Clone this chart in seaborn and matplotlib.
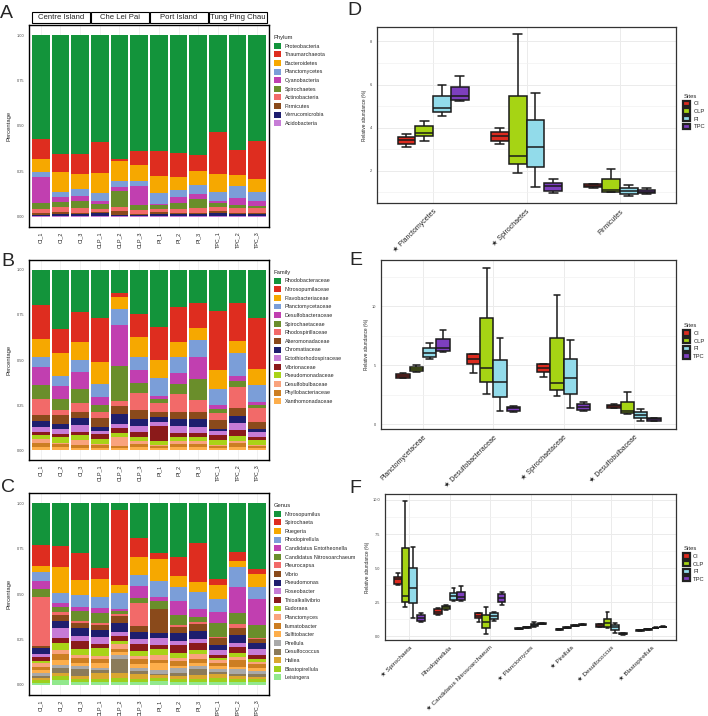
import numpy as np
import pandas as pd
import matplotlib
matplotlib.use('Agg')
import matplotlib.pyplot as plt
import seaborn as sns
from matplotlib.patches import Rectangle, Patch
from matplotlib.ticker import MultipleLocator
from matplotlib.transforms import blended_transform_factory

# ---------------- data ----------------
samples = ['CI_1', 'CI_2', 'CI_3', 'CLP_1', 'CLP_2', 'CLP_3',
           'PI_1', 'PI_2', 'PI_3', 'TPC_1', 'TPC_2', 'TPC_3']
site_names = ['Centre Island', 'Che Lei Pai', 'Port Island', 'Tung Ping Chau']

# panel A: phylum (fraction per sample)
proteobacteria = [0.570, 0.654, 0.654, 0.589, 0.682, 0.636, 0.640, 0.649, 0.660, 0.534, 0.633, 0.585]
thaumarchaeota = [0.112, 0.096, 0.108, 0.168, 0.011, 0.077, 0.133, 0.130, 0.090, 0.232, 0.137, 0.205]
bacteroidetes = [0.071, 0.109, 0.084, 0.113, 0.108, 0.088, 0.097, 0.071, 0.076, 0.099, 0.058, 0.075]
planctomycetes = [0.029, 0.031, 0.037, 0.044, 0.036, 0.031, 0.057, 0.042, 0.048, 0.049, 0.068, 0.049]
cyanobacteria = [0.141, 0.024, 0.027, 0.015, 0.022, 0.104, 0.009, 0.033, 0.025, 0.011, 0.036, 0.024]
spirochaetes = [0.033, 0.031, 0.041, 0.025, 0.088, 0.027, 0.018, 0.031, 0.053, 0.022, 0.015, 0.011]
actinobacteria = [0.024, 0.028, 0.027, 0.020, 0.018, 0.018, 0.020, 0.022, 0.026, 0.018, 0.031, 0.029]
firmicutes = [0.007, 0.008, 0.006, 0.005, 0.022, 0.007, 0.007, 0.005, 0.005, 0.013, 0.005, 0.005]
verrucomicrobia = [0.009, 0.014, 0.012, 0.016, 0.009, 0.007, 0.014, 0.012, 0.012, 0.018, 0.012, 0.012]
acidobacteria = [0.004, 0.004, 0.004, 0.005, 0.004, 0.005, 0.005, 0.005, 0.005, 0.004, 0.004, 0.005]

# panel B: family
rhodobacteraceae = [0.193, 0.327, 0.233, 0.266, 0.127, 0.246, 0.319, 0.206, 0.182, 0.229, 0.183, 0.266]
nitrosopumilaceae = [0.192, 0.135, 0.169, 0.246, 0.023, 0.126, 0.180, 0.196, 0.139, 0.329, 0.211, 0.284]
flavobacteriaceae = [0.096, 0.125, 0.097, 0.119, 0.068, 0.112, 0.101, 0.082, 0.068, 0.103, 0.065, 0.090]
planctomycetaceae = [0.060, 0.059, 0.068, 0.075, 0.085, 0.070, 0.101, 0.088, 0.097, 0.091, 0.132, 0.092]
desulfobacteraceae = [0.099, 0.070, 0.094, 0.044, 0.233, 0.074, 0.018, 0.059, 0.120, 0.022, 0.027, 0.015]
spirochaetaceae = [0.079, 0.064, 0.080, 0.037, 0.192, 0.055, 0.019, 0.057, 0.117, 0.022, 0.033, 0.022]
rhodospirillaceae = [0.088, 0.026, 0.046, 0.035, 0.028, 0.097, 0.049, 0.099, 0.064, 0.037, 0.118, 0.075]
alteromonadaceae = [0.032, 0.047, 0.037, 0.050, 0.046, 0.046, 0.030, 0.039, 0.039, 0.048, 0.042, 0.037]
chromatiaceae = [0.031, 0.028, 0.038, 0.022, 0.051, 0.040, 0.025, 0.040, 0.044, 0.013, 0.037, 0.016]
ectothiorhodospiraceae = [0.027, 0.027, 0.035, 0.018, 0.022, 0.033, 0.024, 0.040, 0.033, 0.022, 0.040, 0.028]
vibrionaceae = [0.019, 0.022, 0.020, 0.027, 0.031, 0.026, 0.086, 0.021, 0.022, 0.029, 0.033, 0.018]
pseudomonadaceae = [0.023, 0.028, 0.026, 0.028, 0.024, 0.027, 0.020, 0.025, 0.027, 0.026, 0.028, 0.029]
desulfobulbaceae = [0.024, 0.009, 0.028, 0.005, 0.050, 0.015, 0.004, 0.015, 0.015, 0.005, 0.012, 0.004]
phyllobacteriaceae = [0.022, 0.018, 0.018, 0.017, 0.009, 0.018, 0.013, 0.018, 0.018, 0.013, 0.024, 0.013]
xanthomonadaceae = [0.015, 0.015, 0.011, 0.011, 0.011, 0.015, 0.011, 0.015, 0.015, 0.011, 0.015, 0.011]

# panel C: genus
nitrosopumilus = [0.229, 0.234, 0.274, 0.356, 0.037, 0.192, 0.274, 0.296, 0.219, 0.420, 0.269, 0.360]
spirochaeta = [0.115, 0.117, 0.150, 0.061, 0.416, 0.104, 0.033, 0.106, 0.214, 0.033, 0.051, 0.028]
ruegeria = [0.036, 0.146, 0.084, 0.099, 0.044, 0.097, 0.119, 0.059, 0.055, 0.077, 0.033, 0.073]
rhodopirellula = [0.046, 0.055, 0.064, 0.060, 0.084, 0.064, 0.090, 0.078, 0.092, 0.068, 0.110, 0.066]
entotheonella = [0.044, 0.020, 0.022, 0.031, 0.013, 0.064, 0.023, 0.077, 0.047, 0.060, 0.140, 0.144]
nitrosoarchaeum = [0.047, 0.028, 0.055, 0.055, 0.015, 0.031, 0.041, 0.055, 0.027, 0.079, 0.064, 0.069]
pleurocapsa = [0.269, 0.018, 0.009, 0.009, 0.013, 0.124, 0.000, 0.011, 0.010, 0.003, 0.019, 0.006]
vibrio = [0.013, 0.031, 0.028, 0.029, 0.040, 0.031, 0.133, 0.031, 0.040, 0.041, 0.042, 0.025]
pseudomonas = [0.029, 0.040, 0.045, 0.037, 0.045, 0.039, 0.031, 0.046, 0.042, 0.029, 0.040, 0.033]
roseobacter = [0.018, 0.051, 0.028, 0.040, 0.024, 0.031, 0.038, 0.023, 0.025, 0.027, 0.024, 0.031]
thioalkalivibrio = [0.024, 0.031, 0.045, 0.018, 0.028, 0.037, 0.022, 0.041, 0.037, 0.017, 0.034, 0.024]
eudoraea = [0.011, 0.039, 0.033, 0.046, 0.018, 0.027, 0.031, 0.027, 0.020, 0.011, 0.019, 0.013]
planctomyces = [0.018, 0.022, 0.017, 0.018, 0.027, 0.018, 0.030, 0.018, 0.028, 0.016, 0.020, 0.015]
ilumatobacter = [0.019, 0.031, 0.024, 0.022, 0.015, 0.024, 0.016, 0.028, 0.025, 0.015, 0.034, 0.022]
sulfitobacter = [0.014, 0.029, 0.018, 0.024, 0.018, 0.022, 0.039, 0.013, 0.015, 0.018, 0.015, 0.014]
pirellula = [0.019, 0.017, 0.018, 0.015, 0.022, 0.018, 0.018, 0.023, 0.018, 0.013, 0.024, 0.018]
desulfococcus = [0.012, 0.023, 0.037, 0.016, 0.077, 0.018, 0.009, 0.019, 0.033, 0.014, 0.013, 0.013]
haliea = [0.011, 0.019, 0.018, 0.033, 0.024, 0.024, 0.013, 0.014, 0.018, 0.019, 0.018, 0.015]
blastopirellula = [0.013, 0.022, 0.013, 0.015, 0.024, 0.019, 0.018, 0.019, 0.019, 0.022, 0.015, 0.015]
leisingera = [0.013, 0.027, 0.018, 0.016, 0.016, 0.016, 0.022, 0.016, 0.016, 0.018, 0.016, 0.016]

phylum_names = ['Proteobacteria', 'Thaumarchaeota', 'Bacteroidetes', 'Planctomycetes', 'Cyanobacteria',
                'Spirochaetes', 'Actinobacteria', 'Firmicutes', 'Verrucomicrobia', 'Acidobacteria']
family_names = ['Rhodobacteraceae', 'Nitrosopumilaceae', 'Flavobacteriaceae', 'Planctomycetaceae',
                'Desulfobacteraceae', 'Spirochaetaceae', 'Rhodospirillaceae', 'Alteromonadaceae',
                'Chromatiaceae', 'Ectothiorhodospiraceae', 'Vibrionaceae', 'Pseudomonadaceae',
                'Desulfobulbaceae', 'Phyllobacteriaceae', 'Xanthomonadaceae']
genus_names = ['Nitrosopumilus', 'Spirochaeta', 'Ruegeria', 'Rhodopirellula', 'Candidatus Entotheonella',
               'Candidatus Nitrosoarchaeum', 'Pleurocapsa', 'Vibrio', 'Pseudomonas', 'Roseobacter',
               'Thioalkalivibrio', 'Eudoraea', 'Planctomyces', 'Ilumatobacter', 'Sulfitobacter',
               'Pirellula', 'Desulfococcus', 'Haliea', 'Blastopirellula', 'Leisingera']

# boxplots: five readings per site and taxon (min, q1, median, q3, max)
site_codes = ['CI', 'CLP', 'PI', 'TPC']
d_taxa = ['\u2605 Planctomycetes', '\u2605 Spirochaetes', 'Firmicutes']
d_ci = [[3.08, 3.23, 3.42, 3.57, 3.69], [3.26, 3.38, 3.62, 3.80, 4.00], [1.20, 1.24, 1.30, 1.36, 1.38]]
d_clp = [[3.38, 3.60, 3.77, 4.08, 4.30], [1.90, 2.29, 2.69, 5.46, 8.34], [1.00, 1.03, 1.10, 1.62, 2.10]]
d_pi = [[4.52, 4.72, 4.92, 5.46, 5.98], [1.23, 2.15, 3.10, 4.37, 5.60], [0.83, 0.90, 1.08, 1.18, 1.34]]
d_tpc = [[5.25, 5.29, 5.45, 5.90, 6.40], [0.98, 1.08, 1.30, 1.42, 1.60], [0.92, 0.95, 1.03, 1.10, 1.18]]

e_taxa = ['Planctomycetaceae', '\u2605 Desulfobacteraceae', '\u2605 Spirochaetaceae', '\u2605 Desulfobulbaceae']
e_ci = [[3.90, 3.94, 4.10, 4.25, 4.37], [4.35, 5.07, 5.50, 5.92, 5.95],
        [4.03, 4.45, 4.79, 5.07, 5.10], [1.35, 1.36, 1.55, 1.63, 1.72]]
e_clp = [[4.42, 4.48, 4.68, 4.87, 5.00], [2.60, 3.60, 4.73, 9.00, 13.20],
         [2.39, 2.90, 3.50, 7.27, 10.93], [0.85, 0.93, 1.13, 1.92, 2.76]]
e_pi = [[5.50, 5.66, 6.00, 6.48, 6.90], [1.13, 2.34, 3.55, 5.44, 7.32],
        [1.35, 2.56, 3.89, 5.49, 7.13], [0.28, 0.51, 0.79, 1.07, 1.27]]
e_tpc = [[6.08, 6.20, 6.48, 7.18, 7.97], [1.07, 1.15, 1.35, 1.50, 1.55],
         [1.15, 1.21, 1.49, 1.72, 1.92], [0.28, 0.31, 0.42, 0.50, 0.55]]

f_taxa = ['\u2605 Spirochaeta', 'Rhodopirellula', '\u2605 Candidatus Nitrosoarchaeum', '\u2605 Planctomyces',
          '\u2605 Pirellula', '\u2605 Desulfococcus', '\u2605 Blastopirellula']
f_ci = [[3.75, 3.82, 4.17, 4.31, 4.60], [1.52, 1.62, 1.79, 1.96, 2.03], [1.00, 1.30, 1.47, 1.67, 1.68],
        [0.50, 0.52, 0.55, 0.58, 0.60], [0.46, 0.48, 0.50, 0.53, 0.55], [0.64, 0.66, 0.76, 0.88, 0.90],
        [0.39, 0.40, 0.42, 0.44, 0.45]]
f_clp = [[2.16, 2.52, 2.94, 6.45, 9.95], [1.95, 1.99, 2.11, 2.23, 2.27], [0.15, 0.61, 1.05, 1.54, 2.11],
         [0.60, 0.62, 0.65, 0.68, 0.70], [0.56, 0.58, 0.60, 0.63, 0.65], [0.56, 0.69, 0.93, 1.23, 1.74],
         [0.47, 0.48, 0.50, 0.52, 0.54]]
f_pi = [[1.30, 2.40, 3.50, 5.02, 6.57], [2.57, 2.65, 2.94, 3.19, 3.55], [1.13, 1.25, 1.50, 1.67, 1.74],
        [0.70, 0.74, 0.80, 0.88, 1.00], [0.71, 0.73, 0.75, 0.78, 0.80], [0.25, 0.44, 0.64, 0.81, 0.98],
        [0.57, 0.58, 0.60, 0.62, 0.63]]
f_tpc = [[1.05, 1.13, 1.35, 1.54, 1.72], [2.57, 2.65, 2.89, 3.26, 3.70], [2.28, 2.52, 2.77, 3.06, 3.21],
         [0.86, 0.89, 0.92, 0.95, 0.98], [0.78, 0.80, 0.82, 0.85, 0.87], [0.10, 0.12, 0.18, 0.25, 0.26],
         [0.65, 0.66, 0.68, 0.70, 0.71]]

# ---------------- styling ----------------
base_cols = ['#13943B', '#DE2D1F', '#F6A800', '#7B9ED8', '#C13FB0', '#6A8E2B',
             '#F26A69', '#8A4A1B', '#1E1E6E']
phylum_cols = base_cols + ['#C67CD6']
family_cols = base_cols + ['#C67CD6', '#8B1A1A', '#A9D318', '#F9A37D', '#CC7E22', '#FDAE4B']
genus_cols = base_cols[:6] + ['#F26A69', '#8A4A1B', '#1E1E6E', '#C67CD6', '#8B1A1A', '#A9D318',
                              '#F9A37D', '#CC7E22', '#FDAE4B', '#A9A9A9', '#8B7B5A', '#DAA630',
                              '#9FCF1C', '#92E88C']
site_cols = {'CI': '#DC2B1F', 'CLP': '#A6D414', 'PI': '#92DBEA', 'TPC': '#7D3FBE'}

sns.set_theme(style='white')
plt.rcParams['font.family'] = ['Liberation Sans', 'DejaVu Sans']

W, H = 708, 716
fig = plt.figure(figsize=(W / 100, H / 100), dpi=100)
fig.patch.set_facecolor('white')


def px_axes(x0, y0, x1, y1):
    return fig.add_axes([x0 / W, 1 - y1 / H, (x1 - x0) / W, (y1 - y0) / H])


def stacked_panel(ax, names, series, colors, title, strips=False):
    rows = []
    for name, vals in zip(names, series):
        for s, v in zip(samples, vals):
            rows.append({'sample': s, 'taxon': name, 'value': v})
    df = pd.DataFrame(rows)
    sns.histplot(data=df, x='sample', hue='taxon', weights='value', multiple='stack',
                 hue_order=names, palette=dict(zip(names, colors)), discrete=True,
                 shrink=0.9, linewidth=0, edgecolor='none', alpha=1, ax=ax)
    ax.set_xlim(-0.6, 11.6)
    ax.set_ylim(-0.055, 1.055)
    ax.set_xticks(range(12))
    ax.set_xticklabels(samples, rotation=90, fontsize=3.9)
    ax.set_yticks([0, 0.25, 0.5, 0.75, 1.0])
    ax.set_yticklabels(['0.00', '0.25', '0.50', '0.75', '1.00'], fontsize=2.8, color='#444444')
    ax.set_xlabel('')
    ax.set_ylabel('Percentage', fontsize=4.2, labelpad=4)
    ax.tick_params(length=2, width=0.5, pad=1.2, color='#333333')
    ax.set_axisbelow(True)
    ax.grid(axis='x', color='#EBEBEB', lw=0.5)
    for sp in ax.spines.values():
        sp.set_color('black')
        sp.set_linewidth(1.0)
    sns.move_legend(ax, 'upper left', bbox_to_anchor=(1.02, 0.95), borderaxespad=0,
                    frameon=False, title=title, fontsize=3.9, title_fontsize=4.2,
                    handlelength=1.3, handleheight=1.3, labelspacing=0.5,
                    handletextpad=0.7, borderpad=0)
    ax.get_legend()._legend_box.align = 'left'
    if strips:
        tr = blended_transform_factory(ax.transData, ax.transAxes)
        for g, name in enumerate(site_names):
            x0 = g * 3 - 0.5 + 0.03
            ax.add_patch(Rectangle((x0, 1.012), 2.96, 0.05, transform=tr, clip_on=False,
                                   facecolor='white', edgecolor='black', lw=0.8))
            ax.text(x0 + 1.48, 1.037, name, transform=tr, ha='center', va='center',
                    fontsize=5.6, clip_on=False)


def box_panel(ax, taxa, ci, clp, pi, tpc, ylim, major, minor, fmt, label_size=5.0):
    rows = []
    for site, vals in zip(site_codes, [ci, clp, pi, tpc]):
        for taxon, five in zip(taxa, vals):
            for v in five:
                rows.append({'taxon': taxon, 'site': site, 'value': v})
    df = pd.DataFrame(rows)
    sns.boxplot(data=df, x='taxon', y='value', hue='site', order=taxa, hue_order=site_codes,
                palette=site_cols, whis=(0, 100), width=0.76, linewidth=1.1, linecolor='#1a1a1a',
                fliersize=0, saturation=1, ax=ax, legend=False)
    n = len(taxa)
    ax.set_xlim(-0.6, n - 0.4)
    ax.set_ylim(*ylim)
    ax.yaxis.set_major_locator(MultipleLocator(major))
    ax.yaxis.set_minor_locator(MultipleLocator(minor))
    ax.yaxis.set_major_formatter(plt.FormatStrFormatter(fmt))
    ax.set_axisbelow(True)
    ax.grid(which='major', color='#EBEBEB', lw=0.7)
    ax.grid(which='minor', axis='y', color='#F2F2F2', lw=0.5)
    ax.tick_params(which='major', length=2, width=0.5, pad=1.5, color='#333333')
    ax.tick_params(which='minor', length=0)
    ax.tick_params(axis='y', labelsize=2.8, labelcolor='#444444')
    ax.set_xticks(range(n))
    ax.set_xticklabels(taxa, rotation=45, ha='right', rotation_mode='anchor', fontsize=label_size)
    ax.set_xlabel('')
    ax.set_ylabel('Relative abundance (%)', fontsize=3.4, labelpad=2)
    for sp in ax.spines.values():
        sp.set_color('#333333')
        sp.set_linewidth(0.9)
    handles = [Patch(facecolor=site_cols[s], edgecolor='#222222', linewidth=1.6, label=s)
               for s in site_codes]
    leg = ax.legend(handles=handles, title='Sites', loc='center left', bbox_to_anchor=(1.025, 0.52),
                    borderaxespad=0, frameon=False, fontsize=4.2, title_fontsize=4.2,
                    handlelength=1.1, handleheight=1.0, labelspacing=0.35, handletextpad=0.6,
                    borderpad=0)
    leg._legend_box.align = 'left'


# ---------------- panels ----------------
ax_a = px_axes(29, 25, 269, 227)
stacked_panel(ax_a, phylum_names,
              [proteobacteria, thaumarchaeota, bacteroidetes, planctomycetes, cyanobacteria,
               spirochaetes, actinobacteria, firmicutes, verrucomicrobia, acidobacteria],
              phylum_cols, 'Phylum', strips=True)

ax_b = px_axes(29, 260, 269, 460)
stacked_panel(ax_b, family_names,
              [rhodobacteraceae, nitrosopumilaceae, flavobacteriaceae, planctomycetaceae,
               desulfobacteraceae, spirochaetaceae, rhodospirillaceae, alteromonadaceae,
               chromatiaceae, ectothiorhodospiraceae, vibrionaceae, pseudomonadaceae,
               desulfobulbaceae, phyllobacteriaceae, xanthomonadaceae],
              family_cols, 'Family')

ax_c = px_axes(29, 493, 269, 695)
stacked_panel(ax_c, genus_names,
              [nitrosopumilus, spirochaeta, ruegeria, rhodopirellula, entotheonella, nitrosoarchaeum,
               pleurocapsa, vibrio, pseudomonas, roseobacter, thioalkalivibrio, eudoraea, planctomyces,
               ilumatobacter, sulfitobacter, pirellula, desulfococcus, haliea, blastopirellula,
               leisingera],
              genus_cols, 'Genus')

ax_d = px_axes(377, 27, 676, 203)
box_panel(ax_d, d_taxa, d_ci, d_clp, d_pi, d_tpc, (0.5, 8.67), 2, 1, '%d')

ax_e = px_axes(381, 260, 676, 429)
box_panel(ax_e, e_taxa, e_ci, e_clp, e_pi, e_tpc, (-0.39, 13.9), 5, 2.5, '%d')

ax_f = px_axes(385, 494, 676, 640)
box_panel(ax_f, f_taxa, f_ci, f_clp, f_pi, f_tpc, (-0.29, 10.44), 2.5, 1.25, '%.1f', label_size=4.6)

for letter, (x, y) in zip('ABCDEF', [(0, 18), (1, 266), (1, 492), (347, 15), (349, 265), (349, 493)]):
    fig.text(x / W, 1 - y / H, letter, fontsize=14, ha='left', va='baseline')

fig.savefig('out.png', dpi=100, facecolor='white')
